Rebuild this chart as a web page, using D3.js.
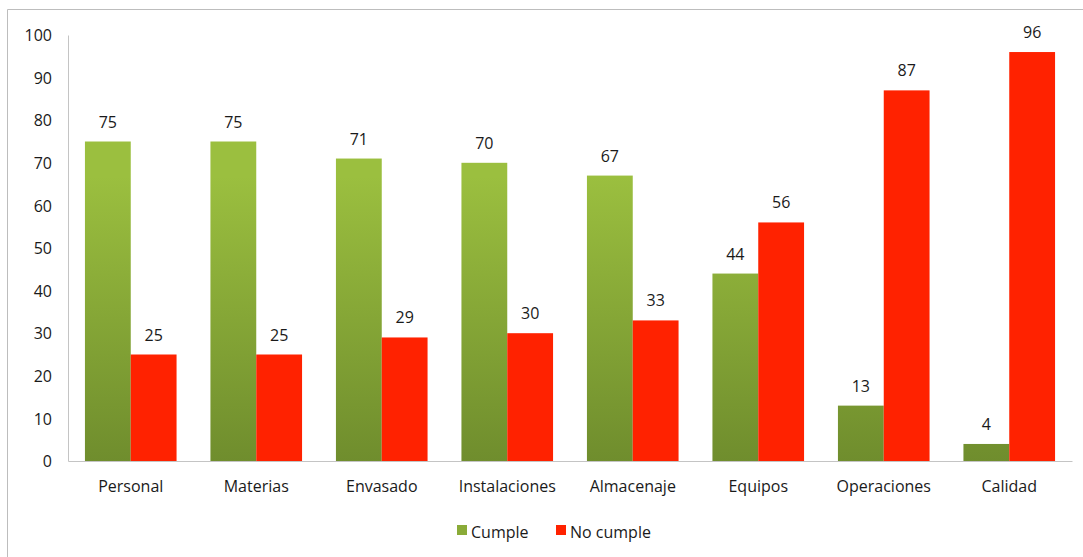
<!DOCTYPE html>
<html>
<head>
<meta charset="utf-8">
<script src="https://d3js.org/d3.v7.min.js"></script>
<style>
body { margin: 0; background: #fff; }
svg text { font-family: "Open Sans", "Lato", sans-serif; fill: #1a1a1a; }
</style>
</head>
<body>
<div id="chart"></div>
<script>
// datos
var categorias = ["Personal", "Materias", "Envasado", "Instalaciones", "Almacenaje", "Equipos", "Operaciones", "Calidad"];
var cumple = [75, 75, 71, 70, 67, 44, 13, 4];
var noCumple = [25, 25, 29, 30, 33, 56, 87, 96];
var series = ["Cumple", "No cumple"];
var yTicks = [0, 10, 20, 30, 40, 50, 60, 70, 80, 90, 100];

var W = 1083, H = 557;
var margin = {top: 35, left: 68, right: 11, bottom: 96};
var width = W - margin.left - margin.right,
    height = H - margin.top - margin.bottom;

var svg = d3.select("#chart").append("svg")
  .attr("width", W).attr("height", H);

// marco exterior
svg.append("path")
  .attr("d", "M7.5," + H + "V9.5H" + W)
  .attr("fill", "none").attr("stroke", "#bdbdbd").attr("stroke-width", 1);

var defs = svg.append("defs");
var grad = defs.append("linearGradient").attr("id", "verde")
  .attr("gradientUnits", "userSpaceOnUse")
  .attr("x1", 0).attr("y1", margin.top + height * 0.25).attr("x2", 0).attr("y2", margin.top + height);
grad.append("stop").attr("offset", "0%").attr("stop-color", "#9bbf3f");
grad.append("stop").attr("offset", "100%").attr("stop-color", "#6a872b");

var g = svg.append("g").attr("transform", "translate(" + margin.left + "," + margin.top + ")");

var x0 = d3.scaleBand().domain(categorias).range([0, width]).paddingInner(0.27).paddingOuter(0.135);
var x1 = d3.scaleBand().domain(series).range([0, x0.bandwidth()]);
var y = d3.scaleLinear().domain([0, 100]).range([height, 0]);

// eje y
var yAxis = g.append("g").call(d3.axisLeft(y).tickValues(yTicks).tickSize(0).tickPadding(16));
yAxis.select(".domain").attr("stroke", "#c4c4c4");
yAxis.selectAll("text").attr("font-size", 16).attr("dy", "0.35em");

// eje x
var xAxis = g.append("g").attr("transform", "translate(0," + height + ")")
  .call(d3.axisBottom(d3.scaleBand().domain(categorias).range([0, width])).tickSize(0).tickPadding(20));
xAxis.select(".domain").attr("stroke", "#c4c4c4");
xAxis.selectAll("text").attr("font-size", 16);

var datos = categorias.map(function(c, i) {
  return {cat: c, vals: [{s: "Cumple", v: cumple[i]}, {s: "No cumple", v: noCumple[i]}]};
});

var grupos = g.selectAll(".grupo").data(datos).enter().append("g")
  .attr("transform", function(d) { return "translate(" + x0(d.cat) + ",0)"; });

grupos.selectAll("rect").data(function(d) { return d.vals; }).enter().append("rect")
  .attr("x", function(d) { return x1(d.s); })
  .attr("y", function(d) { return y(d.v); })
  .attr("width", x1.bandwidth())
  .attr("height", function(d) { return height - y(d.v); })
  .attr("fill", function(d) { return d.s == "Cumple" ? "url(#verde)" : "#ff2200"; });

grupos.selectAll(".val").data(function(d) { return d.vals; }).enter().append("text")
  .attr("x", function(d) { return x1(d.s) + x1.bandwidth() / 2; })
  .attr("y", function(d) { return y(d.v) - 14; })
  .attr("text-anchor", "middle")
  .attr("font-size", 16)
  .text(function(d) { return d.v; });

// leyenda
var ley = svg.append("g").attr("transform", "translate(457,532)");
var items = [{s: "Cumple", c: "#8aab38", x: 0}, {s: "No cumple", c: "#ff2200", x: 99}];
items.forEach(function(it) {
  ley.append("rect").attr("x", it.x).attr("y", -7).attr("width", 10).attr("height", 10).attr("fill", it.c);
  ley.append("text").attr("x", it.x + 14).attr("y", 0).attr("dy", "0.35em").attr("font-size", 16).text(it.s);
});
</script>
</body>
</html>
